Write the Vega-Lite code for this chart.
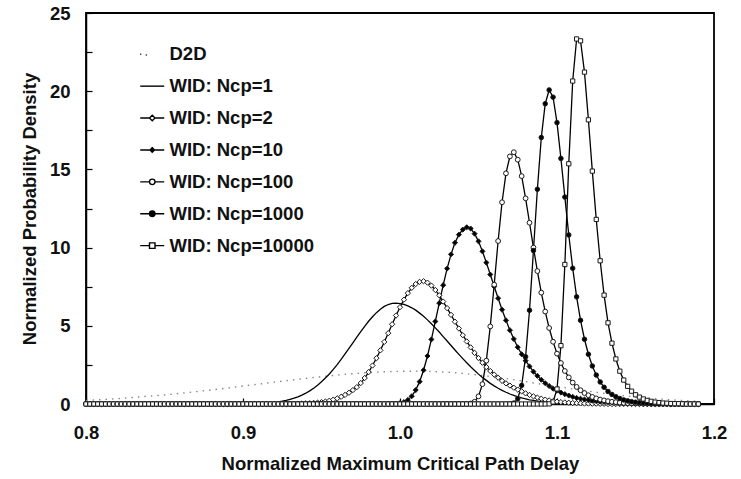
{
  "$schema": "https://vega.github.io/schema/vega-lite/v6.json",
  "width": 628,
  "height": 391,
  "autosize": {"type": "none"},
  "padding": {"left": 86, "top": 13, "right": 27, "bottom": 75},
  "background": "white",
  "config": {
    "font": "Liberation Sans",
    "view": {"stroke": "#000", "strokeWidth": 1.8},
    "axis": {
      "labelFont": "Liberation Sans", "labelFontSize": 18.5, "labelFontWeight": "bold", "labelColor": "#111",
      "titleFont": "Liberation Sans", "titleFontSize": 18.5, "titleFontWeight": "bold", "titleColor": "#111",
      "domainColor": "#000", "domainWidth": 1.5, "tickColor": "#000", "tickWidth": 1.2, "grid": false
    }
  },
  "data": {"values": [
    {"x":0.8,"a":0.23,"b":0,"c":0,"d":0,"e":0,"f":0,"g":0},
    {"x":0.8025,"b":0,"c":0,"d":0,"e":0,"f":0,"g":0},
    {"x":0.805,"b":0,"c":0,"d":0,"e":0,"f":0,"g":0},
    {"x":0.8075,"b":0,"c":0,"d":0,"e":0,"f":0,"g":0},
    {"x":0.81,"a":0.28,"b":0,"c":0,"d":0,"e":0,"f":0,"g":0},
    {"x":0.8125,"b":0,"c":0,"d":0,"e":0,"f":0,"g":0},
    {"x":0.815,"b":0,"c":0,"d":0,"e":0,"f":0,"g":0},
    {"x":0.8175,"b":0,"c":0,"d":0,"e":0,"f":0,"g":0},
    {"x":0.82,"a":0.34,"b":0,"c":0,"d":0,"e":0,"f":0,"g":0},
    {"x":0.8225,"b":0,"c":0,"d":0,"e":0,"f":0,"g":0},
    {"x":0.825,"b":0,"c":0,"d":0,"e":0,"f":0,"g":0},
    {"x":0.8275,"b":0,"c":0,"d":0,"e":0,"f":0,"g":0},
    {"x":0.83,"a":0.42,"b":0,"c":0,"d":0,"e":0,"f":0,"g":0},
    {"x":0.8325,"b":0,"c":0,"d":0,"e":0,"f":0,"g":0},
    {"x":0.835,"b":0,"c":0,"d":0,"e":0,"f":0,"g":0},
    {"x":0.8375,"b":0,"c":0,"d":0,"e":0,"f":0,"g":0},
    {"x":0.84,"a":0.5,"b":0,"c":0,"d":0,"e":0,"f":0,"g":0},
    {"x":0.8425,"b":0,"c":0,"d":0,"e":0,"f":0,"g":0},
    {"x":0.845,"b":0,"c":0,"d":0,"e":0,"f":0,"g":0},
    {"x":0.8475,"b":0,"c":0,"d":0,"e":0,"f":0,"g":0},
    {"x":0.85,"a":0.58,"b":0,"c":0,"d":0,"e":0,"f":0,"g":0},
    {"x":0.8525,"b":0,"c":0,"d":0,"e":0,"f":0,"g":0},
    {"x":0.855,"b":0,"c":0,"d":0,"e":0,"f":0,"g":0},
    {"x":0.8575,"b":0,"c":0,"d":0,"e":0,"f":0,"g":0},
    {"x":0.86,"a":0.68,"b":0,"c":0,"d":0,"e":0,"f":0,"g":0},
    {"x":0.8625,"b":0,"c":0,"d":0,"e":0,"f":0,"g":0},
    {"x":0.865,"b":0,"c":0,"d":0,"e":0,"f":0,"g":0},
    {"x":0.8675,"b":0,"c":0,"d":0,"e":0,"f":0,"g":0},
    {"x":0.87,"a":0.79,"b":0,"c":0,"d":0,"e":0,"f":0,"g":0},
    {"x":0.8725,"b":0,"c":0,"d":0,"e":0,"f":0,"g":0},
    {"x":0.875,"b":0,"c":0,"d":0,"e":0,"f":0,"g":0},
    {"x":0.8775,"b":0,"c":0,"d":0,"e":0,"f":0,"g":0},
    {"x":0.88,"a":0.9,"b":0,"c":0,"d":0,"e":0,"f":0,"g":0},
    {"x":0.8825,"b":0,"c":0,"d":0,"e":0,"f":0,"g":0},
    {"x":0.885,"b":0,"c":0,"d":0,"e":0,"f":0,"g":0},
    {"x":0.8875,"b":0,"c":0,"d":0,"e":0,"f":0,"g":0},
    {"x":0.89,"a":1.02,"b":0,"c":0,"d":0,"e":0,"f":0,"g":0},
    {"x":0.8925,"b":0,"c":0,"d":0,"e":0,"f":0,"g":0},
    {"x":0.895,"b":0,"c":0,"d":0,"e":0,"f":0,"g":0},
    {"x":0.8975,"b":0,"c":0,"d":0,"e":0,"f":0,"g":0},
    {"x":0.9,"a":1.15,"b":0.01,"c":0,"d":0,"e":0,"f":0,"g":0},
    {"x":0.9025,"b":0.01,"c":0,"d":0,"e":0,"f":0,"g":0},
    {"x":0.905,"b":0.02,"c":0,"d":0,"e":0,"f":0,"g":0},
    {"x":0.9075,"b":0.03,"c":0,"d":0,"e":0,"f":0,"g":0},
    {"x":0.91,"a":1.27,"b":0.04,"c":0,"d":0,"e":0,"f":0,"g":0},
    {"x":0.9125,"b":0.05,"c":0,"d":0,"e":0,"f":0,"g":0},
    {"x":0.915,"b":0.06,"c":0,"d":0,"e":0,"f":0,"g":0},
    {"x":0.9175,"b":0.08,"c":0,"d":0,"e":0,"f":0,"g":0},
    {"x":0.92,"a":1.4,"b":0.11,"c":0,"d":0,"e":0,"f":0,"g":0},
    {"x":0.9225,"b":0.14,"c":0,"d":0,"e":0,"f":0,"g":0},
    {"x":0.925,"b":0.18,"c":0,"d":0,"e":0,"f":0,"g":0},
    {"x":0.9275,"b":0.23,"c":0,"d":0,"e":0,"f":0,"g":0},
    {"x":0.93,"a":1.52,"b":0.3,"c":0,"d":0,"e":0,"f":0,"g":0},
    {"x":0.9325,"b":0.37,"c":0,"d":0,"e":0,"f":0,"g":0},
    {"x":0.935,"b":0.46,"c":0.02,"d":0,"e":0,"f":0,"g":0},
    {"x":0.9375,"b":0.57,"c":0.03,"d":0,"e":0,"f":0,"g":0},
    {"x":0.94,"a":1.64,"b":0.69,"c":0.04,"d":0,"e":0,"f":0,"g":0},
    {"x":0.9425,"b":0.84,"c":0.05,"d":0,"e":0,"f":0,"g":0},
    {"x":0.945,"b":1.01,"c":0.07,"d":0,"e":0,"f":0,"g":0},
    {"x":0.9475,"b":1.2,"c":0.09,"d":0,"e":0,"f":0,"g":0},
    {"x":0.95,"a":1.75,"b":1.42,"c":0.12,"d":0,"e":0,"f":0,"g":0},
    {"x":0.9525,"b":1.66,"c":0.16,"d":0,"e":0,"f":0,"g":0},
    {"x":0.955,"b":1.92,"c":0.21,"d":0,"e":0,"f":0,"g":0},
    {"x":0.9575,"b":2.21,"c":0.28,"d":0,"e":0,"f":0,"g":0},
    {"x":0.96,"a":1.85,"b":2.52,"c":0.36,"d":0,"e":0,"f":0,"g":0},
    {"x":0.9625,"b":2.85,"c":0.46,"d":0,"e":0,"f":0,"g":0},
    {"x":0.965,"b":3.2,"c":0.58,"d":0,"e":0,"f":0,"g":0},
    {"x":0.9675,"b":3.55,"c":0.72,"d":0,"e":0,"f":0,"g":0},
    {"x":0.97,"a":1.94,"b":3.91,"c":0.89,"d":0,"e":0,"f":0,"g":0},
    {"x":0.9725,"b":4.27,"c":1.08,"d":0,"e":0,"f":0,"g":0},
    {"x":0.975,"b":4.63,"c":1.34,"d":0,"e":0,"f":0,"g":0},
    {"x":0.9775,"b":4.97,"c":1.66,"d":0,"e":0,"f":0,"g":0},
    {"x":0.98,"a":2.01,"b":5.29,"c":2.04,"d":0,"e":0,"f":0,"g":0},
    {"x":0.9825,"b":5.58,"c":2.46,"d":0,"e":0,"f":0,"g":0},
    {"x":0.985,"b":5.84,"c":2.93,"d":0,"e":0,"f":0,"g":0},
    {"x":0.9875,"b":6.06,"c":3.43,"d":0,"e":0,"f":0,"g":0},
    {"x":0.99,"a":2.06,"b":6.24,"c":3.97,"d":0,"e":0,"f":0,"g":0},
    {"x":0.9925,"b":6.36,"c":4.53,"d":0,"e":0,"f":0,"g":0},
    {"x":0.995,"b":6.43,"c":5.1,"d":0.01,"e":0,"f":0,"g":0},
    {"x":0.9975,"b":6.45,"c":5.66,"d":0.02,"e":0,"f":0,"g":0},
    {"x":1.0,"a":2.09,"b":6.42,"c":6.19,"d":0.05,"e":0,"f":0,"g":0},
    {"x":1.0025,"b":6.37,"c":6.67,"d":0.12,"e":0,"f":0,"g":0},
    {"x":1.005,"b":6.27,"c":7.09,"d":0.26,"e":0,"f":0,"g":0},
    {"x":1.0075,"b":6.15,"c":7.43,"d":0.5,"e":0,"f":0,"g":0},
    {"x":1.01,"a":2.1,"b":6.0,"c":7.67,"d":0.89,"e":0,"f":0,"g":0},
    {"x":1.0125,"b":5.81,"c":7.81,"d":1.43,"e":0,"f":0,"g":0},
    {"x":1.015,"b":5.61,"c":7.85,"d":2.16,"e":0,"f":0,"g":0},
    {"x":1.0175,"b":5.38,"c":7.76,"d":3.07,"e":0,"f":0,"g":0},
    {"x":1.02,"a":2.08,"b":5.13,"c":7.57,"d":4.13,"e":0,"f":0,"g":0},
    {"x":1.0225,"b":4.87,"c":7.29,"d":5.28,"e":0,"f":0,"g":0},
    {"x":1.025,"b":4.6,"c":6.95,"d":6.45,"e":0,"f":0,"g":0},
    {"x":1.0275,"b":4.31,"c":6.55,"d":7.6,"e":0,"f":0,"g":0},
    {"x":1.03,"a":2.04,"b":4.03,"c":6.13,"d":8.66,"e":0,"f":0,"g":0},
    {"x":1.0325,"b":3.74,"c":5.7,"d":9.57,"e":0,"f":0,"g":0},
    {"x":1.035,"b":3.45,"c":5.26,"d":10.31,"e":0,"f":0,"g":0},
    {"x":1.0375,"b":3.17,"c":4.83,"d":10.83,"e":0,"f":0,"g":0},
    {"x":1.04,"a":1.96,"b":2.9,"c":4.4,"d":11.15,"e":0,"f":0,"g":0},
    {"x":1.0425,"b":2.64,"c":4.0,"d":11.3,"e":0,"f":0,"g":0},
    {"x":1.045,"b":2.38,"c":3.62,"d":11.22,"e":0.03,"f":0,"g":0},
    {"x":1.0475,"b":2.14,"c":3.27,"d":10.89,"e":0.14,"f":0,"g":0},
    {"x":1.05,"a":1.85,"b":1.91,"c":2.94,"d":10.4,"e":0.49,"f":0,"g":0},
    {"x":1.0525,"b":1.7,"c":2.64,"d":9.76,"e":1.27,"f":0,"g":0},
    {"x":1.055,"b":1.51,"c":2.36,"d":9.04,"e":2.77,"f":0,"g":0},
    {"x":1.0575,"b":1.32,"c":2.11,"d":8.28,"e":4.96,"f":0,"g":0},
    {"x":1.06,"a":1.73,"b":1.16,"c":1.88,"d":7.51,"e":7.63,"f":0,"g":0},
    {"x":1.0625,"b":1.01,"c":1.68,"d":6.76,"e":10.42,"f":0,"g":0},
    {"x":1.065,"b":0.87,"c":1.48,"d":6.03,"e":12.9,"f":0,"g":0},
    {"x":1.0675,"b":0.75,"c":1.32,"d":5.35,"e":14.75,"f":0,"g":0},
    {"x":1.07,"a":1.59,"b":0.64,"c":1.18,"d":4.72,"e":15.83,"f":0.01,"g":0},
    {"x":1.0725,"b":0.55,"c":1.04,"d":4.15,"e":16.1,"f":0.06,"g":0},
    {"x":1.075,"b":0.46,"c":0.92,"d":3.63,"e":15.62,"f":0.34,"g":0},
    {"x":1.0775,"b":0.39,"c":0.81,"d":3.18,"e":14.57,"f":1.19,"g":0},
    {"x":1.08,"a":1.43,"b":0.33,"c":0.68,"d":2.77,"e":13.15,"f":3.02,"g":0},
    {"x":1.0825,"b":0.27,"c":0.58,"d":2.4,"e":11.59,"f":5.99,"g":0},
    {"x":1.085,"b":0.23,"c":0.49,"d":2.07,"e":10.0,"f":9.81,"g":0},
    {"x":1.0875,"b":0.19,"c":0.41,"d":1.8,"e":8.5,"f":13.73,"g":0},
    {"x":1.09,"a":1.27,"b":0.15,"c":0.34,"d":1.55,"e":7.12,"f":17.04,"g":0},
    {"x":1.0925,"b":0.13,"c":0.28,"d":1.33,"e":5.91,"f":19.2,"g":0},
    {"x":1.095,"b":0.1,"c":0.23,"d":1.15,"e":4.86,"f":20.08,"g":0.01},
    {"x":1.0975,"b":0.08,"c":0.19,"d":0.98,"e":3.98,"f":19.62,"g":0.13},
    {"x":1.1,"a":1.12,"b":0.07,"c":0.15,"d":0.85,"e":3.22,"f":17.99,"g":0.96},
    {"x":1.1025,"b":0.05,"c":0.12,"d":0.73,"e":2.62,"f":15.7,"g":3.73},
    {"x":1.105,"b":0.04,"c":0.1,"d":0.63,"e":2.11,"f":13.23,"g":8.92},
    {"x":1.1075,"b":0.03,"c":0.08,"d":0.54,"e":1.7,"f":10.81,"g":15.36},
    {"x":1.11,"a":0.96,"b":0.03,"c":0.06,"d":0.46,"e":1.37,"f":8.68,"g":20.65},
    {"x":1.1125,"b":0.02,"c":0.05,"d":0.39,"e":1.09,"f":6.85,"g":23.34},
    {"x":1.115,"b":0.02,"c":0.04,"d":0.34,"e":0.88,"f":5.35,"g":23.22},
    {"x":1.1175,"b":0.01,"c":0.03,"d":0.29,"e":0.7,"f":4.14,"g":21.22},
    {"x":1.12,"a":0.82,"b":0.01,"c":0.03,"d":0.25,"e":0.56,"f":3.18,"g":18.17},
    {"x":1.1225,"b":0,"c":0.02,"d":0.21,"e":0.45,"f":2.43,"g":14.89},
    {"x":1.125,"b":0,"c":0.02,"d":0.18,"e":0.36,"f":1.85,"g":11.8},
    {"x":1.1275,"b":0,"c":0.01,"d":0.15,"e":0.28,"f":1.41,"g":9.16},
    {"x":1.13,"a":0.68,"b":0,"c":0.01,"d":0.13,"e":0.23,"f":1.07,"g":6.96},
    {"x":1.1325,"b":0,"c":0,"d":0.11,"e":0.18,"f":0.8,"g":5.19},
    {"x":1.135,"b":0,"c":0,"d":0.1,"e":0.14,"f":0.61,"g":3.89},
    {"x":1.1375,"b":0,"c":0,"d":0.08,"e":0.12,"f":0.46,"g":2.88},
    {"x":1.14,"a":0.56,"b":0,"c":0,"d":0.07,"e":0.09,"f":0.35,"g":2.1},
    {"x":1.1425,"b":0,"c":0,"d":0.06,"e":0.07,"f":0.26,"g":1.53},
    {"x":1.145,"b":0,"c":0,"d":0.05,"e":0.06,"f":0.2,"g":1.13},
    {"x":1.1475,"b":0,"c":0,"d":0.04,"e":0.05,"f":0.15,"g":0.82},
    {"x":1.15,"a":0.45,"b":0,"c":0,"d":0.04,"e":0.04,"f":0.11,"g":0.59},
    {"x":1.1525,"b":0,"c":0,"d":0.03,"e":0.03,"f":0.08,"g":0.44},
    {"x":1.155,"b":0,"c":0,"d":0.03,"e":0.02,"f":0.06,"g":0.32},
    {"x":1.1575,"b":0,"c":0,"d":0.02,"e":0.02,"f":0.05,"g":0.23},
    {"x":1.16,"a":0.36,"b":0,"c":0,"d":0.02,"e":0.01,"f":0.04,"g":0.17},
    {"x":1.1625,"b":0,"c":0,"d":0.01,"e":0.01,"f":0.03,"g":0.12},
    {"x":1.165,"b":0,"c":0,"d":0.01,"e":0,"f":0.02,"g":0.09},
    {"x":1.1675,"b":0,"c":0,"d":0.01,"e":0,"f":0.02,"g":0.06},
    {"x":1.17,"a":0.28,"b":0,"c":0,"d":0.01,"e":0,"f":0.01,"g":0.05},
    {"x":1.1725,"b":0,"c":0,"d":0,"e":0,"f":0,"g":0.03},
    {"x":1.175,"b":0,"c":0,"d":0,"e":0,"f":0,"g":0.02},
    {"x":1.1775,"b":0,"c":0,"d":0,"e":0,"f":0,"g":0.02},
    {"x":1.18,"a":0.22,"b":0,"c":0,"d":0,"e":0,"f":0,"g":0.01},
    {"x":1.1825,"b":0,"c":0,"d":0,"e":0,"f":0,"g":0},
    {"x":1.185,"b":0,"c":0,"d":0,"e":0,"f":0,"g":0},
    {"x":1.1875,"b":0,"c":0,"d":0,"e":0,"f":0,"g":0},
    {"x":1.19,"a":0.17,"b":0,"c":0,"d":0,"e":0,"f":0,"g":0}
  ]},
  "transform": [
    {"fold": ["a", "b", "c", "d", "e", "f", "g"], "as": ["k", "v"]},
    {"filter": "isValid(datum.v)"}
  ],
  "encoding": {
    "x": {
      "field": "x", "type": "quantitative",
      "scale": {"domain": [0.8, 1.2], "nice": false, "zero": false},
      "axis": {"values": [0.8, 0.9, 1.0, 1.1, 1.2], "format": ".1f", "title": "Normalized Maximum Critical Path Delay",
               "tickSize": -6, "labelPadding": 25, "titlePadding": 13, "labelFlush": false, "labelOverlap": false}
    },
    "y": {
      "field": "v", "type": "quantitative",
      "scale": {"domain": [0, 25], "nice": false},
      "axis": {"values": [0, 2.5, 5, 7.5, 10, 12.5, 15, 17.5, 20, 22.5, 25], "format": ".1f",
               "labelExpr": "datum.value % 5 == 0 ? format(datum.value, 'd') : ''",
               "title": "Normalized Probability Density", "tickSize": -6, "labelPadding": 22, "titlePadding": 10, "labelOverlap": false}
    }
  },
  "layer": [
    {
      "transform": [{"filter": "datum.k == 'a'"}],
      "mark": {"type": "line", "stroke": "#8a8a8a", "strokeWidth": 1.4, "strokeDash": [1.5, 5]}
    },
    {
      "transform": [{"filter": "datum.k != 'a'"}],
      "mark": {"type": "line", "stroke": "#000", "strokeWidth": 1.3},
      "encoding": {
        "detail": {"field": "k"},
        "strokeWidth": {"field": "k", "scale": {"domain": ["b", "c", "d", "e", "f", "g"], "range": [1.7, 1.1, 1.3, 1.1, 1.3, 1.1]}, "legend": null}
      }
    },
    {
      "transform": [{"filter": "datum.k != 'a' && datum.k != 'b'"}],
      "mark": {"type": "point", "stroke": "#1a1a1a", "strokeWidth": 1, "opacity": 1},
      "encoding": {
        "shape": {"field": "k", "scale": {"domain": ["c", "d", "e", "f", "g"], "range": ["diamond", "diamond", "circle", "circle", "square"]}, "legend": null},
        "fill": {"field": "k", "scale": {"domain": ["c", "d", "e", "f", "g"], "range": ["#fff", "#000", "#fff", "#000", "#fff"]}, "legend": null},
        "size": {"field": "k", "scale": {"domain": ["c", "d", "e", "f", "g"], "range": [28, 18, 30, 30, 32]}, "legend": null}
      }
    },
    {
      "transform": [{"filter": "datum.x == 0.8"}],
      "mark": {"type": "point", "opacity": 0, "stroke": "#000", "strokeWidth": 1.3, "filled": false},
      "encoding": {
        "shape": {
          "field": "k",
          "scale": {
            "domain": ["a", "b", "c", "d", "e", "f", "g"],
            "range": [
              "M-2.4,0H-2.2M-1.3,0.15H-1.1",
              "M-2.4,0H2.4",
              "M-2.4,0H-0.55M0.55,0H2.4M0,-0.55L0.55,0L0,0.55L-0.55,0Z",
              "M-2.4,0H2.4M0,-0.6V0.6M0,-0.45L0.45,0L0,0.45L-0.45,0ZM0,-0.22L0.22,0L0,0.22L-0.22,0Z",
              "M-2.4,0H-0.55M0.55,0H2.4M-0.55,0A0.55,0.55 0 1,0 0.55,0A0.55,0.55 0 1,0 -0.55,0Z",
              "M-2.4,0H2.4M-0.55,0A0.55,0.55 0 1,0 0.55,0A0.55,0.55 0 1,0 -0.55,0ZM-0.32,0A0.32,0.32 0 1,0 0.32,0A0.32,0.32 0 1,0 -0.32,0ZM-0.12,0A0.12,0.12 0 1,0 0.12,0A0.12,0.12 0 1,0 -0.12,0Z",
              "M-2.4,0H-0.55M0.55,0H2.4M-0.55,-0.55H0.55V0.55H-0.55Z"
            ]
          },
          "legend": {
            "title": null, "orient": "none", "legendX": 57, "legendY": 32, "padding": 0,
            "symbolSize": 100, "symbolOpacity": 1, "symbolStrokeWidth": 1.4, "symbolStrokeColor": "#000",
            "labelOffset": 8, "rowPadding": 12.9,
            "labelFont": "Liberation Sans", "labelFontSize": 18.5, "labelFontWeight": "bold", "labelColor": "#111",
            "labelExpr": "datum.value == 'a' ? 'D2D' : datum.value == 'b' ? 'WID: Ncp=1' : datum.value == 'c' ? 'WID: Ncp=2' : datum.value == 'd' ? 'WID: Ncp=10' : datum.value == 'e' ? 'WID: Ncp=100' : datum.value == 'f' ? 'WID: Ncp=1000' : 'WID: Ncp=10000'"
          }
        }
      }
    }
  ],
  "resolve": {"scale": {"shape": "independent"}}
}
